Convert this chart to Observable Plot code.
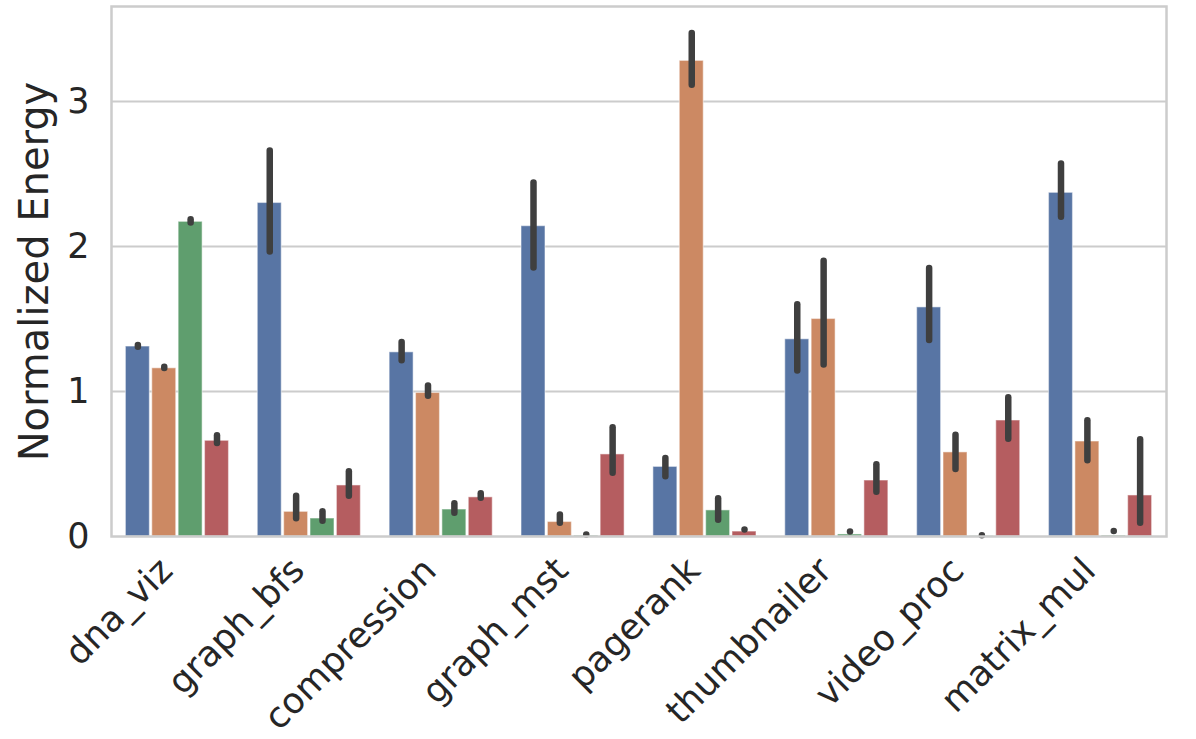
<!DOCTYPE html>
<html>
<head>
<meta charset="utf-8">
<script src="https://cdn.jsdelivr.net/npm/d3@7"></script>
<script src="https://cdn.jsdelivr.net/npm/@observablehq/plot@0.6"></script>
<style>
  html, body { margin: 0; padding: 0; background: #ffffff; }
  #chart svg { display: block; }
</style>
</head>
<body>
<div id="chart"></div>
<script>
// ---- data ----
const benchmarks = ["dna_viz", "graph_bfs", "compression", "graph_mst", "pagerank", "thumbnailer", "video_proc", "matrix_mul"];
const series = ["s1", "s2", "s3", "s4"];
const colors = ["#5875a4", "#cc8963", "#5f9e6e", "#b55d60"];

const mean_s1 = [1.31, 2.30, 1.27, 2.14, 0.48, 1.36, 1.58, 2.37];
const lo_s1   = [1.305, 1.962, 1.212, 1.852, 0.412, 1.142, 1.352, 2.202];
const hi_s1   = [1.318, 2.658, 1.338, 2.438, 0.538, 1.598, 1.848, 2.568];

const mean_s2 = [1.16, 0.17, 0.99, 0.10, 3.28, 1.50, 0.58, 0.655];
const lo_s2   = [1.158, 0.122, 0.967, 0.092, 3.112, 1.182, 0.462, 0.522];
const hi_s2   = [1.168, 0.278, 1.038, 0.148, 3.468, 1.898, 0.698, 0.798];

const mean_s3 = [2.17, 0.124, 0.186, 0.005, 0.18, 0.014, 0.002, 0.006];
const lo_s3   = [2.162, 0.105, 0.16, 0.01, 0.112, 0.031, 0.005, 0.034];
const hi_s3   = [2.185, 0.171, 0.226, 0.01, 0.261, 0.031, 0.005, 0.034];

const mean_s4 = [0.66, 0.352, 0.27, 0.566, 0.034, 0.386, 0.80, 0.283];
const lo_s4   = [0.642, 0.277, 0.263, 0.436, 0.045, 0.305, 0.67, 0.091];
const hi_s4   = [0.695, 0.447, 0.295, 0.75, 0.045, 0.495, 0.957, 0.668];

const yTicks = [0, 1, 2, 3];
const yLabel = "Normalized Energy";

// ---- table built from the arrays ----
const means = [mean_s1, mean_s2, mean_s3, mean_s4];
const los = [lo_s1, lo_s2, lo_s3, lo_s4];
const his = [hi_s1, hi_s2, hi_s3, hi_s4];
const groupWidth = 0.8;
const barW = groupWidth / series.length;
const rows = [];
benchmarks.forEach((b, i) => {
  series.forEach((s, j) => {
    const x1 = i - groupWidth / 2 + j * barW;
    rows.push({
      benchmark: b, series: s,
      x1, x2: x1 + barW, xc: x1 + barW / 2,
      mean: means[j][i], lo: los[j][i], hi: his[j][i]
    });
  });
});

const chart = Plot.plot({
  width: 1196,
  height: 739,
  marginLeft: 111,
  marginRight: 30,
  marginTop: 6,
  marginBottom: 203,
  style: {fontFamily: "DejaVu Sans", fontSize: "35px", color: "#262626", background: "#ffffff"},
  x: {
    domain: [-0.5, benchmarks.length - 0.5],
    axis: null
  },
  y: {
    domain: [0, 3.655],
    ticks: yTicks,
    tickFormat: d3.format("d"),
    tickSize: 0,
    tickPadding: 22,
    label: null
  },
  color: {domain: series, range: colors},
  marks: [
    Plot.ruleY(yTicks.slice(1), {stroke: "#cccccc", strokeWidth: 2.2}),
    Plot.rect(rows, {
      x1: "x1", x2: "x2", y1: () => 0, y2: "mean",
      fill: "series", insetLeft: 1.2, insetRight: 1.2,
      stroke: "#ffffff", strokeOpacity: 0.45, strokeWidth: 1.2
    }),
    Plot.ruleX(rows, {
      x: "xc", y1: "lo", y2: "hi",
      stroke: "#3f3f3f", strokeWidth: 6.5, strokeLinecap: "round"
    }),
    Plot.frame({stroke: "#cccccc", strokeWidth: 2.5}),
    // x tick labels (category names), rotated 45°
    Plot.text(benchmarks, {
      x: (d, i) => i, text: d => d,
      frameAnchor: "bottom", dy: 36, dx: -3,
      rotate: -45, textAnchor: "end", lineAnchor: "bottom",
      fontSize: 35.5, fill: "#262626"
    }),
    Plot.text([yLabel], {
      frameAnchor: "left", rotate: -90, dx: -64,
      textAnchor: "middle", lineAnchor: "bottom",
      fontSize: 40, fill: "#262626"
    })
  ]
});
document.getElementById("chart").appendChild(chart);
</script>
</body>
</html>
